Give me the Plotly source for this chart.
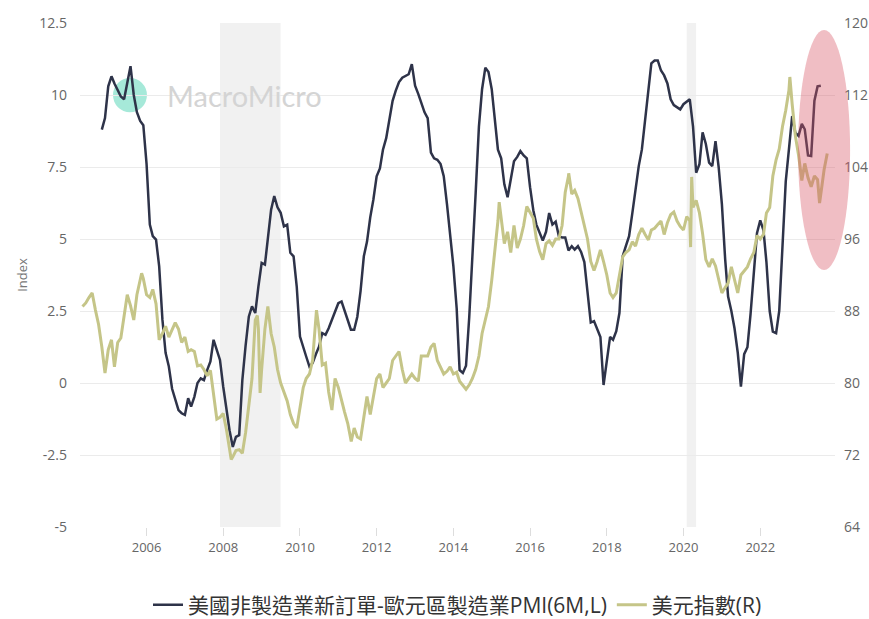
import pandas as pd
import plotly.graph_objects as go

# 美國非製造業新訂單 - 歐元區製造業PMI (6M change), monthly from Nov 2004
spread_start = "2004-11-01"
spread_values = [
    8.8, 9.2,
    10.3, 10.65, 10.4, 10.15, 9.95, 9.85, 10.4, 11.0, 10.0, 9.4, 9.1, 8.95,
    7.6, 5.5, 5.1, 4.98, 4.05, 2.2, 1.05, 0.57, -0.2, -0.6, -0.94, -1.05,
    -1.11, -0.53, -0.82, -0.48, 0.0, 0.16, 0.1, 0.45, 0.75, 1.5, 1.1, 0.8,
    -0.13, -1.0, -1.64, -2.22, -1.87, -1.81, 0.1, 1.3, 2.31, 2.66, 2.43, 3.35,
    4.17, 4.11, 5.0, 6.02, 6.49, 6.1, 5.91, 5.44, 5.5, 4.52, 4.4, 3.35,
    1.61, 1.2, 0.92, 0.57, 0.69, 1.0, 1.26, 1.73, 1.67, 1.9, 2.19, 2.5,
    2.77, 2.83, 2.5, 2.13, 1.85, 1.85, 2.3, 3.2, 4.4, 4.9, 5.75, 6.37,
    7.18, 7.45, 8.1, 8.5, 9.2, 9.8, 10.15, 10.45, 10.6, 10.65, 10.72, 11.07,
    10.32, 10.03, 9.75, 9.4, 9.2, 8.0, 7.8, 7.75, 7.6, 7.18, 6.2, 5.2,
    4.05, 2.6, 0.45, 0.35, 0.6, 2.3, 4.2, 6.6, 8.9, 10.2, 10.95, 10.8,
    10.2, 9.2, 8.1, 7.8, 6.9, 6.45, 7.1, 7.7, 7.85, 8.05, 7.9, 7.8,
    6.8, 6.0, 5.5, 5.2, 4.95, 5.25, 5.9, 5.5, 5.6, 5.1, 5.05, 5.05,
    4.6, 4.75, 4.63, 4.75, 4.55, 4.2, 3.1, 2.1, 2.15, 1.85, 1.6, -0.07,
    0.7, 1.6, 1.5, 1.8, 2.43, 4.4, 4.75, 5.1, 5.9, 6.7, 7.53, 8.11,
    9.16, 10.35, 11.1, 11.2, 11.2, 10.85, 10.68, 10.4, 9.85, 9.65, 9.56, 9.5,
    9.68, 9.78, 9.85, 8.9, 7.3, 7.6, 8.7, 8.3, 7.65, 7.53, 8.4, 7.5,
    6.2, 4.3, 3.0, 2.5, 1.9, 1.05, -0.13, 1.0, 1.24, 2.4, 3.9, 5.2,
    5.65, 5.3, 4.2, 2.5, 1.78, 1.73, 2.5, 4.8, 7.0, 8.1, 9.27, 8.69,
    8.58, 9.0, 8.81, 7.9, 7.88, 9.8, 10.3, 10.32,
]

# 美元指數, month-start readings from May 2004
dxy_start = "2004-05-01"
dxy_monthly = [
    88.5, 88.9, 89.5, 90.0, 88.1, 86.5, 84.0, 81.1,
    83.7, 84.8, 81.8, 84.5, 85.0, 87.5, 89.8, 88.6, 87.0, 89.8, 91.4, 91.6,
    89.8, 89.5, 90.4, 88.8, 84.8, 85.5, 86.3, 85.1, 85.9, 86.7, 86.0, 84.5,
    85.1, 83.5, 83.7, 83.5, 81.9, 82.0, 81.5, 80.8, 81.4, 78.5, 76.0, 76.2,
    76.6, 74.8, 72.8, 71.8, 72.5, 72.6, 72.2, 74.5, 77.5, 80.5, 87.0, 86.0,
    81.5, 86.0, 88.5, 85.5, 84.0, 81.5, 80.0, 79.0, 78.0, 76.5, 75.5, 75.0,
    77.5, 79.5, 80.5, 81.0, 82.5, 87.0, 86.0, 82.0, 82.2, 79.0, 77.0, 80.5,
    79.5, 78.0, 76.8, 75.5, 74.0, 75.0, 74.0, 73.8, 76.0, 78.5, 76.5, 78.5,
    80.5, 81.0, 79.5, 80.0, 80.5, 82.5, 83.0, 83.5, 81.5, 80.0, 80.5, 81.0,
    80.5, 80.2, 83.0, 83.0, 83.0, 84.0, 84.4, 82.5, 81.8, 81.0, 81.3, 81.8,
    81.0, 81.2, 80.2, 79.8, 79.3, 79.8, 80.5, 81.5, 83.0, 85.5, 87.0, 88.5,
    91.4, 94.8, 98.0, 98.5, 95.5, 96.8, 94.5, 97.5, 95.0, 96.0, 97.5, 99.6,
    98.9, 98.3, 96.0, 94.6, 93.7, 95.5, 95.8, 95.3, 96.0, 96.0, 97.5, 101.2,
    103.0, 101.0, 101.4, 100.5, 99.0, 97.3, 96.0, 93.5, 92.5, 93.5, 94.8, 93.5,
    92.0, 90.0, 89.5, 90.0, 91.8, 94.0, 94.5, 94.8, 95.7, 95.2, 96.5, 97.2,
    96.5, 95.9, 97.0, 97.2, 97.6, 98.0, 96.5, 97.8, 98.7, 99.0, 98.0, 97.4,
    97.0, 98.5, 98.0, 99.5, 100.3, 98.9, 96.6, 93.7, 92.9, 93.8, 93.0, 91.4,
    90.0, 90.6, 91.1, 92.9, 91.3, 90.0, 92.0, 92.5, 92.9, 93.8, 94.5, 96.4,
    96.0, 96.5, 98.9, 99.5, 103.0, 104.8, 106.0, 108.5, 110.3, 112.5, 111.0, 107.5,
    105.3, 102.5, 104.4, 102.8, 101.8, 103.0, 102.6, 101.0, 103.7, 105.5,
]

# intra-month turning points of the dollar index
dxy_extra_dates = [
    "2005-11-15", "2008-03-17", "2008-11-21", "2008-12-17", "2010-06-07",
    "2011-05-04", "2015-03-13", "2017-01-03", "2020-03-09", "2020-03-19",
    "2022-10-10", "2023-07-20",
]
dxy_extra_values = [
    92.2, 71.5, 87.5, 78.9, 88.1,
    73.5, 100.1, 103.3, 95.1, 102.9,
    114.0, 100.0,
]

# shaded periods (US recessions)
recession_starts = ["2007-12-01", "2020-02-01"]
recession_ends = ["2009-06-30", "2020-04-30"]

left_ticks = [-5, -2.5, 0, 2.5, 5, 7.5, 10, 12.5]
left_tick_text = ["-5", "-2.5", "0", "2.5", "5", "7.5", "10", "12.5"]
right_ticks = [64, 72, 80, 88, 96, 104, 112, 120]

name_spread = "美國非製造業新訂單-歐元區製造業PMI(6M,L)"
name_dxy = "美元指數(R)"

spread_dates = pd.date_range(spread_start, periods=len(spread_values), freq="MS")
dxy = pd.concat([
    pd.Series(dxy_monthly, index=pd.date_range(dxy_start, periods=len(dxy_monthly), freq="MS")),
    pd.Series(dxy_extra_values, index=pd.to_datetime(dxy_extra_dates)),
]).sort_index()

FONT = "Open Sans, Noto Sans CJK TC, sans-serif"

fig = go.Figure()
fig.add_trace(go.Scatter(
    x=spread_dates, y=spread_values, name=name_spread, mode="lines",
    line=dict(color="#2e3349", width=2.5),
))
fig.add_trace(go.Scatter(
    x=dxy.index, y=dxy.values, name=name_dxy, mode="lines", yaxis="y2",
    line=dict(color="#c5c588", width=3),
))

shapes = []
for s, e in zip(recession_starts, recession_ends):
    shapes.append(dict(type="rect", xref="x", yref="paper", x0=s, x1=e, y0=0, y1=1,
                       fillcolor="#f1f1f1", line=dict(width=0), layer="below"))
# highlight of the latest readings
shapes.append(dict(type="circle", xref="paper", yref="paper",
                   x0=0.951, x1=1.020, y0=0.510, y1=0.986,
                   fillcolor="rgba(215,85,100,0.38)", line=dict(width=0), layer="above"))
# watermark badge
shapes.append(dict(type="circle", xref="paper", yref="paper",
                   x0=0.0437, x1=0.0887, y0=0.823, y1=0.891,
                   fillcolor="rgba(93,215,186,0.55)", line=dict(width=0), layer="between"))

fig.update_layout(
    width=869, height=619,
    margin=dict(l=80, r=34, t=23, b=92, autoexpand=False),
    paper_bgcolor="white", plot_bgcolor="white",
    font=dict(family=FONT, color="#666"),
    showlegend=True,
    legend=dict(orientation="h", x=0.5, xanchor="center", y=-0.155, yanchor="middle",
                font=dict(size=21, color="#333", family=FONT), itemwidth=30,
                tracegroupgap=0),
    hovermode=False,
    shapes=shapes,
    annotations=[dict(text="MacroMicro", xref="paper", yref="paper", x=0.112, y=0.857,
                      xanchor="left", yanchor="middle", showarrow=False,
                      font=dict(family="Lato, Open Sans, sans-serif", size=29, color="#d4d4d4"))],
    xaxis=dict(
        type="date", range=["2004-04-07", "2023-12-14"],
        tick0="2006-01-01", dtick="M24", tickformat="%Y",
        showgrid=False, zeroline=False, showline=False,
        ticks="outside", ticklen=8, tickcolor="#dddddd",
        tickfont=dict(size=13, color="#666"),
    ),
    yaxis=dict(
        range=[-5, 12.5], tickvals=left_ticks, ticktext=left_tick_text,
        showgrid=True, gridcolor="#ebebeb", zeroline=False, showline=False,
        ticklabelstandoff=12, tickfont=dict(size=14, color="#666"),
        title=dict(text="Index", font=dict(size=13, color="#777"), standoff=8),
    ),
    yaxis2=dict(
        range=[64, 120], tickvals=right_ticks, overlaying="y", side="right",
        showgrid=False, zeroline=False, showline=False,
        ticklabelstandoff=8, tickfont=dict(size=14, color="#666"),
    ),
)

fig.write_html("out.html")
